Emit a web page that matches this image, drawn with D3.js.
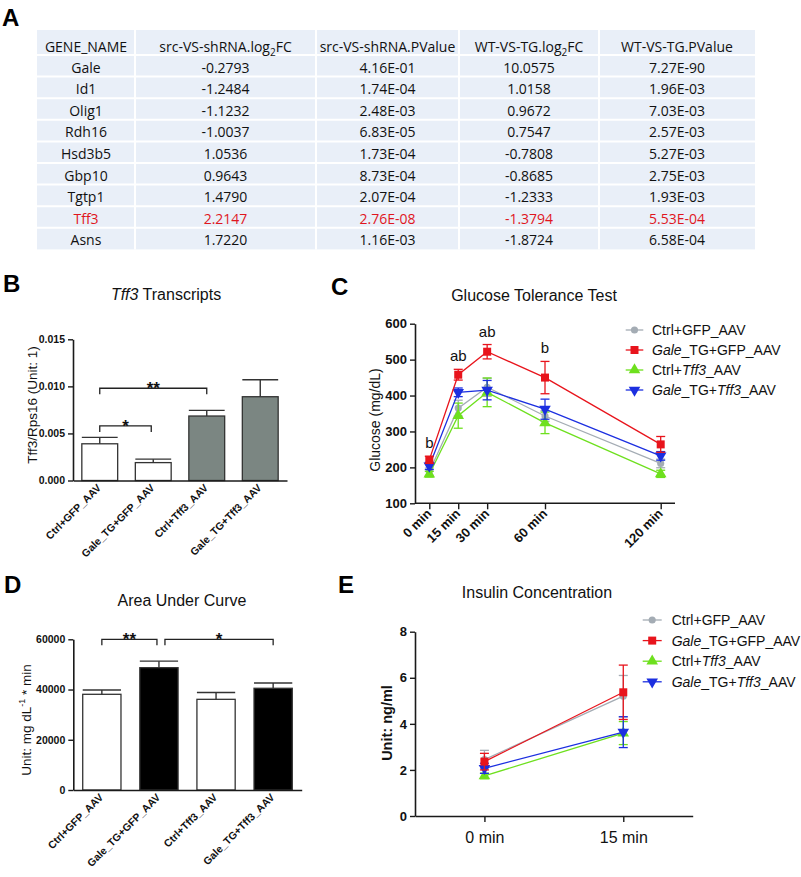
<!DOCTYPE html>
<html><head><meta charset="utf-8">
<script src="https://cdn.jsdelivr.net/npm/d3@7"></script>
<style>body{margin:0;background:#fff;} svg{display:block;}</style>
</head><body>
<svg id="fig" width="801" height="877"></svg>
<script>
// ---------------- DATA ----------------
// Panel A table
const tableHeaders = ['GENE_NAME', 'src-VS-shRNA.log2FC', 'src-VS-shRNA.PValue', 'WT-VS-TG.log2FC', 'WT-VS-TG.PValue'];
const genes = ['Gale', 'Id1', 'Olig1', 'Rdh16', 'Hsd3b5', 'Gbp10', 'Tgtp1', 'Tff3', 'Asns'];
const srcLog2FC = ['-0.2793', '-1.2484', '-1.1232', '-1.0037', '1.0536', '0.9643', '1.4790', '2.2147', '1.7220'];
const srcPValue = ['4.16E-01', '1.74E-04', '2.48E-03', '6.83E-05', '1.73E-04', '8.73E-04', '2.07E-04', '2.76E-08', '1.16E-03'];
const wtLog2FC = ['10.0575', '1.0158', '0.9672', '0.7547', '-0.7808', '-0.8685', '-1.2333', '-1.3794', '-1.8724'];
const wtPValue = ['7.27E-90', '1.96E-03', '7.03E-03', '2.57E-03', '5.27E-03', '2.75E-03', '1.93E-03', '5.53E-04', '6.58E-04'];
const highlightGene = 'Tff3';

// Panel B
const groups = ['Ctrl+GFP_AAV', 'Gale_TG+GFP_AAV', 'Ctrl+Tff3_AAV', 'Gale_TG+Tff3_AAV'];
const tff3Mean = [0.0039, 0.0019, 0.00685, 0.0089];
const tff3Err = [0.00068, 0.00037, 0.0006, 0.0018];
const tff3Ticks = [0, 0.005, 0.010, 0.015];
const tff3Sig = [{a: 0, b: 2, y: 0.0098, label: '**'}, {a: 0, b: 1, y: 0.0058, label: '*'}];

// Panel C
const times = [0, 15, 30, 60, 120];
const timeLabels = ['0 min', '15 min', '30 min', '60 min', '120 min'];
const seriesNames = ['Ctrl+GFP_AAV', 'Gale_TG+GFP_AAV', 'Ctrl+Tff3_AAV', 'Gale_TG+Tff3_AAV'];
const gttCtrlGFP = [188, 365, 423, 343, 211];
const gttCtrlGFPErr = [10, 22, 25, 15, 12];
const gttGaleGFP = [221, 458, 522, 450, 264];
const gttGaleGFPErr = [10, 15, 20, 45, 22];
const gttCtrlTff3 = [181, 344, 409, 324, 182];
const gttCtrlTff3Err = [8, 35, 40, 30, 10];
const gttGaleTff3 = [204, 409, 415, 362, 232];
const gttGaleTff3Err = [10, 12, 27, 28, 12];
const gttLetters = ['b', 'ab', 'ab', 'b', ''];
const gttTicks = [100, 200, 300, 400, 500, 600];

// Panel D
const aucMean = [38100, 48700, 36100, 40500];
const aucErr = [1700, 2600, 2700, 2100];
const aucTicks = [0, 20000, 40000, 60000];
const aucSig = [{a: 0, b: 1, y: 60000, label: '**'}, {a: 1, b: 3, y: 60000, label: '*'}];

// Panel E
const insTimes = ['0 min', '15 min'];
const insCtrlGFP = [2.45, 5.2];
const insCtrlGFPErr = [0.4, 0.9];
const insGaleGFP = [2.36, 5.37];
const insGaleGFPErr = [0.36, 1.18];
const insCtrlTff3 = [1.74, 3.6];
const insCtrlTff3Err = [0.12, 0.5];
const insGaleTff3 = [2.07, 3.64];
const insGaleTff3Err = [0.22, 0.67];
const insTicks = [0, 2, 4, 6, 8];

// ---------------- STYLE ----------------
const FONT = "'Liberation Sans', Arial, Helvetica, sans-serif";
const TFONT = "'Open Sans', 'Noto Sans', sans-serif";
const AX = '#1a1a1a';
const seriesColors = ['#a4acb4', '#e8141c', '#6ee01e', '#1c2fe0'];
const seriesSymbols = ['circle', 'square', 'triUp', 'triDown'];

const svg = d3.select('#fig');

function symPath(kind, scale) {
  const s = scale || 1;
  if (kind === 'circle') return d3.symbol(d3.symbolCircle, 40 * s)();
  if (kind === 'square') return d3.symbol(d3.symbolSquare, 64 * s)();
  return d3.symbol(d3.symbolTriangle, 58 * s)();
}
function symTransform(kind, x, y) {
  return `translate(${x},${y})` + (kind === 'triDown' ? ' rotate(180)' : '');
}
function richText(sel, str) {
  // italicise gene names Gale / Tff3
  str.split(/(Gale|Tff3)/).filter(s => s.length).forEach(part => {
    sel.append('tspan').text(part).attr('font-style', (part === 'Gale' || part === 'Tff3') ? 'italic' : 'normal');
  });
}
function styleAxis(g, size, bold) {
  g.select('.domain').attr('stroke', AX).attr('stroke-width', 1.6);
  g.selectAll('.tick line').attr('stroke', AX).attr('stroke-width', 1.4);
  g.selectAll('.tick text').attr('font-family', FONT).attr('font-size', size)
    .attr('font-weight', bold ? 'bold' : 'normal').attr('fill', '#111');
}

// panel letters
[['A', 2, 26], ['B', 3, 292], ['C', 331, 295], ['D', 4, 593], ['E', 338, 593]].forEach(([t, x, y]) => {
  svg.append('text').attr('x', x).attr('y', y).text(t)
    .attr('font-family', FONT).attr('font-weight', 'bold').attr('font-size', 24).attr('fill', '#000');
});

// ---------------- PANEL A: TABLE ----------------
(function () {
  const colEdges = [37, 135, 316, 459, 599, 755];
  const top = 30, headH = 25, rowH = 21.6;
  const bottom = top + headH + genes.length * rowH;
  const g = svg.append('g');
  g.append('rect').attr('x', colEdges[0]).attr('y', top).attr('width', colEdges[5] - colEdges[0])
    .attr('height', bottom - top).attr('fill', '#e9eff8');
  // white grid lines
  colEdges.slice(1, -1).forEach(x => g.append('line').attr('x1', x).attr('x2', x).attr('y1', top).attr('y2', bottom)
    .attr('stroke', '#fff').attr('stroke-width', 2));
  d3.range(genes.length).forEach(i => {
    const y = top + headH + i * rowH;
    g.append('line').attr('x1', colEdges[0]).attr('x2', colEdges[5]).attr('y1', y).attr('y2', y)
      .attr('stroke', '#fff').attr('stroke-width', 2);
  });
  const centers = d3.range(5).map(i => (colEdges[i] + colEdges[i + 1]) / 2);
  // header
  tableHeaders.forEach((h, i) => {
    const t = g.append('text').attr('x', centers[i]).attr('y', top + 21.5).attr('text-anchor', 'middle')
      .attr('font-family', TFONT).attr('font-size', 14).attr('fill', '#111');
    const m = h.match(/^(.*log)2(FC)$/);
    if (m) {
      t.append('tspan').text(m[1]);
      t.append('tspan').text('2').attr('font-size', 10).attr('dy', 4);
      t.append('tspan').text(m[2]).attr('dy', -4);
    } else t.text(h);
  });
  const rows = genes.map((gname, i) => [gname, srcLog2FC[i], srcPValue[i], wtLog2FC[i], wtPValue[i]]);
  rows.forEach((r, i) => {
    const y = top + headH + i * rowH + 17.5;
    r.forEach((v, j) => {
      g.append('text').attr('x', centers[j]).attr('y', y).attr('text-anchor', 'middle')
        .attr('font-family', TFONT).attr('font-size', 14)
        .attr('fill', r[0] === highlightGene ? '#e0161e' : '#111').text(v);
    });
  });
})();

// ---------------- generic bar panel ----------------
function barPanel(opts) {
  const g = svg.append('g');
  const x = d3.scaleBand().domain(groups).range(opts.xRange).paddingInner(0.33).paddingOuter(0.165);
  const y = d3.scaleLinear().domain(opts.yDomain).range(opts.yRange);
  // title
  const tt = g.append('text').attr('x', opts.titleX).attr('y', opts.titleY).attr('text-anchor', 'middle')
    .attr('font-family', FONT).attr('font-size', 16).attr('fill', '#111');
  opts.title(tt);
  // bars
  g.selectAll('rect.bar').data(opts.mean).join('rect').attr('class', 'bar')
    .attr('x', (d, i) => x(groups[i])).attr('width', x.bandwidth())
    .attr('y', d => y(d)).attr('height', d => y(opts.yDomain[0]) - y(d))
    .attr('fill', (d, i) => opts.fills[i]).attr('stroke', '#333').attr('stroke-width', 1.3);
  // error bars (upper only)
  opts.mean.forEach((m, i) => {
    const cx = x(groups[i]) + x.bandwidth() / 2;
    g.append('line').attr('x1', cx).attr('x2', cx).attr('y1', y(m)).attr('y2', y(m + opts.err[i]))
      .attr('stroke', '#333').attr('stroke-width', 1.4);
    g.append('line').attr('x1', cx - x.bandwidth() / 2).attr('x2', cx + x.bandwidth() / 2)
      .attr('y1', y(m + opts.err[i])).attr('y2', y(m + opts.err[i])).attr('stroke', '#333').attr('stroke-width', 1.4);
  });
  // axes
  const ya = g.append('g').attr('transform', `translate(${opts.xRange[0]},0)`)
    .call(d3.axisLeft(y).tickValues(opts.ticks).tickFormat(opts.fmt).tickSize(5).tickSizeOuter(0).tickPadding(3));
  styleAxis(ya, opts.tickSize, true);
  const xa = g.append('g').attr('transform', `translate(0,${opts.yRange[0]})`)
    .call(d3.axisBottom(x).tickSize(0).tickSizeOuter(0).tickFormat(''));
  styleAxis(xa, 10, true);
  groups.forEach(gn => {
    const cx = x(gn) + x.bandwidth() / 2;
    g.append('text').attr('transform', `translate(${cx + 2},${opts.yRange[0] + 8}) rotate(-45)`)
      .attr('text-anchor', 'end').attr('font-family', FONT).attr('font-weight', 'bold')
      .attr('font-size', 10.5).attr('fill', '#111').text(gn);
  });
  // y title
  const yt = g.append('text').attr('transform', `translate(${opts.yTitleX},${opts.yTitleY}) rotate(-90)`)
    .attr('text-anchor', 'middle').attr('font-family', FONT).attr('font-size', 13.5).attr('fill', '#111');
  opts.yTitle(yt);
  // significance brackets
  opts.sig.forEach((s, k) => {
    const xa0 = x(groups[s.a]) + x.bandwidth() / 2 + (s.a === 1 ? 6 : 0);
    const xb0 = x(groups[s.b]) + x.bandwidth() / 2 - (s.b === 1 ? 2 : 0);
    const yy = y(s.y);
    g.append('path').attr('d', `M${xa0},${yy + 6}V${yy}H${xb0}V${yy + 6}`)
      .attr('fill', 'none').attr('stroke', '#222').attr('stroke-width', 1.3);
    g.append('text').attr('x', (xa0 + xb0) / 2).attr('y', yy + 6).attr('text-anchor', 'middle')
      .attr('font-family', FONT).attr('font-weight', 'bold').attr('font-size', 17).attr('fill', '#111').text(s.label);
  });
}

// ---------------- PANEL B ----------------
barPanel({
  xRange: [73, 287], yRange: [480.5, 339.3], yDomain: [0, 0.015],
  mean: tff3Mean, err: tff3Err, ticks: tff3Ticks, fmt: d3.format('.3f'), tickSize: 10.5,
  fills: ['#ffffff', '#ffffff', '#7b8682', '#7b8682'],
  titleX: 166, titleY: 300,
  title: t => { t.append('tspan').text('Tff3').attr('font-style', 'italic'); t.append('tspan').text(' Transcripts'); },
  yTitleX: 37, yTitleY: 405,
  yTitle: t => t.text('Tff3/Rps16 (Unit: 1)'),
  sig: tff3Sig
});

// ---------------- PANEL D ----------------
barPanel({
  xRange: [73.3, 301.7], yRange: [790, 639.3], yDomain: [0, 60000],
  mean: aucMean, err: aucErr, ticks: aucTicks, fmt: d3.format('d'), tickSize: 10.5,
  fills: ['#ffffff', '#000000', '#ffffff', '#000000'],
  titleX: 182, titleY: 606,
  title: t => t.text('Area Under Curve'),
  yTitleX: 31, yTitleY: 720,
  yTitle: t => {
    t.append('tspan').text('Unit: mg dL');
    t.append('tspan').text('-1').attr('font-size', 9).attr('dy', -6);
    t.append('tspan').text(' * min').attr('dy', 6);
  },
  sig: aucSig
});

// ---------------- line panel helper ----------------
function seriesBlock(g, x, y, xs, vals, errs, color, kind, cap) {
  g.append('path').datum(vals).attr('fill', 'none').attr('stroke', color).attr('stroke-width', 1.3)
    .attr('d', d3.line().x((d, i) => x(xs[i])).y(d => y(d)));
  vals.forEach((v, i) => {
    const cx = x(xs[i]);
    g.append('line').attr('x1', cx).attr('x2', cx).attr('y1', y(v - errs[i])).attr('y2', y(v + errs[i]))
      .attr('stroke', color).attr('stroke-width', 1.3);
    [v - errs[i], v + errs[i]].forEach(e => g.append('line').attr('x1', cx - cap).attr('x2', cx + cap)
      .attr('y1', y(e)).attr('y2', y(e)).attr('stroke', color).attr('stroke-width', 1.3));
    g.append('path').attr('d', symPath(kind)).attr('transform', symTransform(kind, cx, y(v))).attr('fill', color);
  });
}
function legend(g, x0, y0, dy, lineW, textX) {
  seriesNames.forEach((n, i) => {
    const yy = y0 + i * dy;
    g.append('line').attr('x1', x0).attr('x2', x0 + lineW).attr('y1', yy).attr('y2', yy)
      .attr('stroke', seriesColors[i]).attr('stroke-width', 1.3);
    g.append('path').attr('d', symPath(seriesSymbols[i])).attr('transform', symTransform(seriesSymbols[i], x0 + lineW / 2, yy))
      .attr('fill', seriesColors[i]);
    const t = g.append('text').attr('x', textX).attr('y', yy + 5).attr('font-family', FONT).attr('font-size', 14).attr('fill', '#111');
    richText(t, n);
  });
}

// ---------------- PANEL C ----------------
(function () {
  const g = svg.append('g');
  const x = d3.scaleLinear().domain([0, 120]).range([429.3, 660.7]);
  const y = d3.scaleLinear().domain([100, 600]).range([503.3, 323.7]);
  const axisY = 503.3;
  g.append('text').attr('x', 534).attr('y', 301).attr('text-anchor', 'middle')
    .attr('font-family', FONT).attr('font-size', 16).attr('fill', '#111').text('Glucose Tolerance Test');
  const ya = g.append('g').attr('transform', 'translate(415,0)')
    .call(d3.axisLeft(y).tickValues(gttTicks).tickSize(5).tickSizeOuter(0).tickPadding(3));
  styleAxis(ya, 13, true);
  const xa = g.append('g').attr('transform', `translate(0,${axisY})`)
    .call(d3.axisBottom(x).tickValues(times).tickSize(6).tickFormat(''));
  styleAxis(xa, 13, true);
  xa.select('.domain').attr('d', `M${415},0H${675}`);
  times.forEach((t, i) => {
    g.append('text').attr('transform', `translate(${x(t) + 3},${axisY + 11}) rotate(-45)`)
      .attr('text-anchor', 'end').attr('font-family', FONT).attr('font-weight', 'bold').attr('font-size', 13)
      .attr('fill', '#111').text(timeLabels[i]);
  });
  g.append('text').attr('transform', 'translate(380,420) rotate(-90)').attr('text-anchor', 'middle')
    .attr('font-family', FONT).attr('font-size', 14).attr('fill', '#111').text('Glucose (mg/dL)');
  const vals = [gttCtrlGFP, gttGaleGFP, gttCtrlTff3, gttGaleTff3];
  const errs = [gttCtrlGFPErr, gttGaleGFPErr, gttCtrlTff3Err, gttGaleTff3Err];
  [0, 2, 3, 1].forEach(k => seriesBlock(g, x, y, times, vals[k], errs[k], seriesColors[k], seriesSymbols[k], 4.5));
  gttLetters.forEach((l, i) => {
    if (!l) return;
    g.append('text').attr('x', x(times[i])).attr('y', y(gttGaleGFP[i] + gttGaleGFPErr[i]) - 8)
      .attr('text-anchor', 'middle').attr('font-family', FONT).attr('font-size', 15).attr('fill', '#111').text(l);
  });
  legend(g, 625.7, 330, 20, 17.6, 652);
})();

// ---------------- PANEL E ----------------
(function () {
  const g = svg.append('g');
  const x = d3.scalePoint().domain(insTimes).range([415, 692.7]).padding(0.5);
  const y = d3.scaleLinear().domain([0, 8]).range([816, 631.7]);
  g.append('text').attr('x', 537).attr('y', 598).attr('text-anchor', 'middle')
    .attr('font-family', FONT).attr('font-size', 16).attr('fill', '#111').text('Insulin Concentration');
  const ya = g.append('g').attr('transform', 'translate(415,0)')
    .call(d3.axisLeft(y).tickValues(insTicks).tickSize(5).tickSizeOuter(0).tickPadding(3));
  styleAxis(ya, 13, true);
  const xa = g.append('g').attr('transform', 'translate(0,816)')
    .call(d3.axisBottom(x).tickSize(6).tickSizeOuter(0).tickPadding(10));
  styleAxis(xa, 16, false);
  g.append('text').attr('transform', 'translate(392,723) rotate(-90)').attr('text-anchor', 'middle')
    .attr('font-family', FONT).attr('font-weight', 'bold').attr('font-size', 14.5).attr('fill', '#111').text('Unit: ng/ml');
  const vals = [insCtrlGFP, insGaleGFP, insCtrlTff3, insGaleTff3];
  const errs = [insCtrlGFPErr, insGaleGFPErr, insCtrlTff3Err, insGaleTff3Err];
  [0, 2, 3, 1].forEach(k => seriesBlock(g, x, y, insTimes, vals[k], errs[k], seriesColors[k], seriesSymbols[k], 4.5));
  legend(g, 642.7, 620, 20.6, 19, 671.7);
})();
</script>
</body></html>
